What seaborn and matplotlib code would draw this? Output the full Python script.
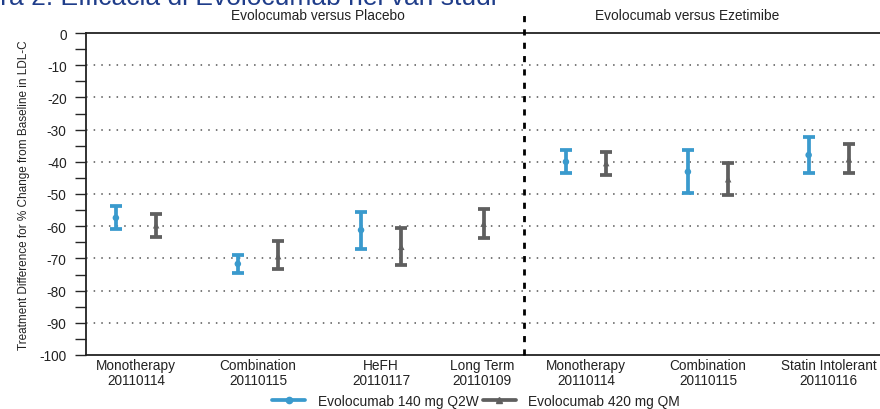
import numpy as np
import pandas as pd
import matplotlib
matplotlib.use("Agg")
import matplotlib.pyplot as plt
import matplotlib.transforms as mtransforms
from matplotlib.lines import Line2D
import seaborn as sns

# ---------------- data ----------------
categories = ["Monotherapy\n20110114", "Combination\n20110115", "HeFH\n20110117",
              "Long Term\n20110109", "Monotherapy\n20110114", "Combination\n20110115",
              "Statin Intolerant\n20110116"]
series_names = ["Evolocumab 140 mg Q2W", "Evolocumab 420 mg QM"]

q2w_mean = [-57.4, -71.7, -61.2, np.nan, -40.0, -43.1, -37.9]
q2w_low = [-61.0, -74.6, -67.0, np.nan, -43.6, -49.8, -43.5]
q2w_high = [-53.8, -68.8, -55.5, np.nan, -36.3, -36.4, -32.4]

qm_mean = [-59.7, -69.3, -66.4, -59.2, -40.4, -45.4, -39.2]
qm_low = [-63.2, -73.4, -71.9, -63.8, -44.1, -50.4, -43.5]
qm_high = [-56.1, -64.6, -60.5, -54.8, -37.1, -40.4, -34.5]

panel_titles = ["Evolocumab versus Placebo", "Evolocumab versus Ezetimibe"]
ylabel = "Treatment Difference for % Change from Baseline in LDL-C"
title = "Figura 2: Efficacia di Evolocumab nei vari studi"

# ---------------- layout ----------------
centers = [0.0, 1.0, 2.01, 2.84, 3.69, 4.69, 5.68]
offset = 0.165
divider_x = 3.18
colors = {"Evolocumab 140 mg Q2W": "#3a9acd", "Evolocumab 420 mg QM": "#5f5f5f"}
markers = {"Evolocumab 140 mg Q2W": "o", "Evolocumab 420 mg QM": "^"}

rows = []
for i, c in enumerate(categories):
    has_blue = not np.isnan(q2w_mean[i])
    if has_blue:
        rows.append(dict(x=centers[i] - offset, mean=q2w_mean[i], low=q2w_low[i],
                         high=q2w_high[i], series=series_names[0]))
    rows.append(dict(x=centers[i] + (offset if has_blue else 0.01), mean=qm_mean[i],
                     low=qm_low[i], high=qm_high[i], series=series_names[1]))
df = pd.DataFrame(rows)

sns.set_style("white")
plt.rcParams["font.family"] = ["Liberation Sans", "DejaVu Sans"]
plt.rcParams["axes.unicode_minus"] = False

fig = plt.figure(figsize=(8.8, 4.1), dpi=100)
ax = fig.add_axes([86 / 880, 1 - 356 / 410, 1 - 86 / 880, (356 - 34) / 410])

# dotted grid
for g in range(-10, -100, -10):
    ax.axhline(g, color="#555555", lw=1.1, ls=(0, (1, 4)), zorder=1)

for s in series_names:
    d = df[df.series == s]
    ax.errorbar(d.x, d["mean"], yerr=[d["mean"] - d.low, d.high - d["mean"]],
                fmt="none", ecolor=colors[s], elinewidth=2.7, capsize=4.3,
                capthick=2.7, zorder=3)

sns.scatterplot(data=df, x="x", y="mean", hue="series", style="series",
                palette=colors, markers=markers, s=22, edgecolor="none",
                legend=False, ax=ax, zorder=4)

# divider
ax.axvline(divider_x, ymin=0, ymax=1.07, color="black", lw=2.0,
           ls=(0, (2.2, 2.6)), clip_on=False, zorder=5)

ax.set_xlim(-0.41, 6.10)
ax.set_ylim(-100, 0)
ax.set_yticks(np.arange(-100, 1, 10))
ax.set_yticks(np.arange(-95, 0, 10), minor=True)
ax.set_xticks(centers)
ax.set_xticklabels(categories, fontsize=9.8, color="#222222", linespacing=1.15)
ax.tick_params(axis="x", length=0, pad=2)
ax.tick_params(axis="y", which="major", length=8, width=1.0, direction="out",
               labelsize=9.8, labelcolor="#222222", left=True, pad=6)
ax.tick_params(axis="y", which="minor", length=8, width=1.0, direction="out", left=True)
ax.set_xlabel("")
ax.set_ylabel(ylabel, fontsize=8.5, color="#222222", labelpad=7)

for side in ["left", "top", "bottom"]:
    ax.spines[side].set_visible(True)
    ax.spines[side].set_color("#222222")
    ax.spines[side].set_linewidth(1.3)
ax.spines["right"].set_visible(False)

trans = mtransforms.blended_transform_factory(ax.transData, ax.transAxes)
ax.text(1.49, 1.056, panel_titles[0], transform=trans, ha="center", va="center",
        fontsize=9.9, color="#222222")
ax.text(4.52, 1.056, panel_titles[1], transform=trans, ha="center", va="center",
        fontsize=9.9, color="#222222")

fig.text(497 / 880, 1 - 5.5 / 410, title, ha="right", va="baseline",
         fontsize=19, color="#1f3d8a")

handles = [Line2D([0], [0], color=colors[s], lw=2.7, marker=markers[s], markersize=4.5)
           for s in series_names]
fig.legend(handles, series_names, loc="center", bbox_to_anchor=(0.541, 0.019),
           ncol=2, frameon=False, fontsize=9.9, handlelength=2.4, handletextpad=0.9,
           columnspacing=0.3, labelcolor="#222222")

fig.savefig("out.png", dpi=100)
